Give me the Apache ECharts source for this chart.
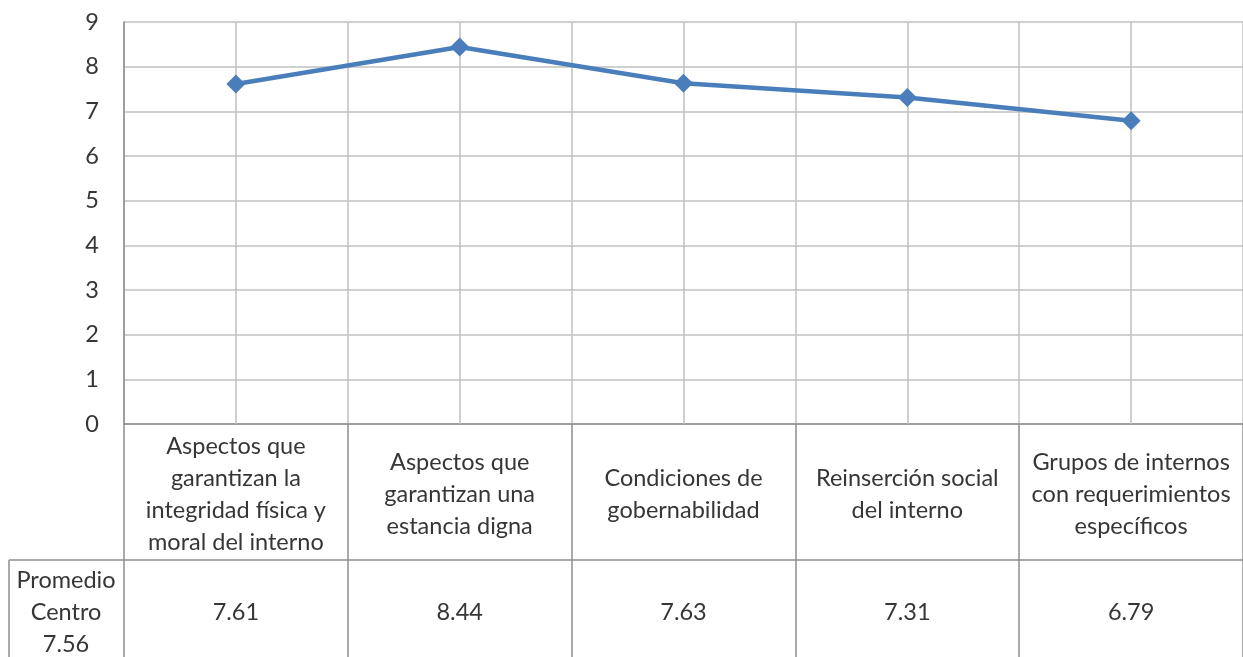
<!DOCTYPE html>
<html lang="es">
	<head>
		<meta charset="UTF-8"/>
		<title></title>
		<script src="https://cdn.jsdelivr.net/npm/echarts@6/dist/echarts.min.js"></script>
		<style>
			html, body { margin: 0; padding: 0; background: #fff; }
		</style>
	</head>
	<body>
		<div id="main" style="width: 1243px;height: 657px;"></div>
		<script type="text/javascript">
			// datos
			var categorias = [
				'Aspectos que\ngarantizan la\nintegridad física y\nmoral del interno',
				'Aspectos que\ngarantizan una\nestancia digna',
				'Condiciones de\ngobernabilidad',
				'Reinserción social\ndel interno',
				'Grupos de internos\ncon requerimientos\nespecíficos'
			];
			var valores = [7.61, 8.44, 7.63, 7.31, 6.79];
			var promedioCentro = 7.56;
			var nombreSerie = 'Promedio Centro';
			var ticksY = [0, 9, 1]; // min, max, intervalo

			var fuente = 'Lato';
			var tamFuente = 23.5;
			var colorTexto = '#363636';
			var colorRejilla = '#c0c0c0';
			var colorTabla = '#8e8e8e';

			var myChart = echarts.init(document.getElementById('main'));
			var option = {
				backgroundColor: '#ffffff',
				animation: false,
				grid: {
					left: 124,
					right: -1,
					top: 22,
					bottom: 233
				},
				xAxis: [
					{
						type: 'category',
						data: categorias,
						boundaryGap: true,
						axisLine: { show: true, lineStyle: { color: colorTabla, width: 1.5 } },
						axisTick: { show: true, length: 233, lineStyle: { color: colorTabla, width: 1.5 } },
						splitLine: { show: true, lineStyle: { color: colorRejilla, width: 1.5 } },
						axisLabel: {
							interval: 0,
							margin: 70,
							verticalAlign: 'middle',
							align: 'center',
							fontFamily: fuente,
							fontSize: tamFuente,
							lineHeight: 32,
							color: colorTexto
						}
					},
					{
						type: 'category',
						data: categorias,
						position: 'bottom',
						boundaryGap: true,
						axisLine: { show: false },
						axisTick: { show: true, alignWithLabel: true, inside: true, length: 402, lineStyle: { color: colorRejilla, width: 1.5 } },
						splitLine: { show: false },
						axisLabel: {
							interval: 0,
							margin: 188,
							verticalAlign: 'middle',
							fontFamily: fuente,
							fontSize: tamFuente,
							color: colorTexto,
							formatter: function (v, i) { return valores[i].toFixed(2); }
						}
					}
				],
				yAxis: {
					type: 'value',
					min: ticksY[0],
					max: ticksY[1],
					interval: ticksY[2],
					axisLine: { show: true, lineStyle: { color: colorTabla, width: 1.5 } },
					axisTick: { show: false },
					splitLine: { show: true, lineStyle: { color: colorRejilla, width: 1.5 } },
					axisLabel: {
						margin: 25,
						fontFamily: fuente,
						fontSize: tamFuente,
						color: colorTexto
					}
				},
				graphic: [
					{
						type: 'line',
						shape: { x1: 9, y1: 560, x2: 1243, y2: 560 },
						style: { stroke: colorTabla, lineWidth: 1.5 }
					},
					{
						type: 'line',
						shape: { x1: 9, y1: 560, x2: 9, y2: 657 },
						style: { stroke: colorTabla, lineWidth: 1.5 }
					},
					{
						type: 'text',
						x: 66,
						y: 612,
						style: {
							text: 'Promedio\nCentro\n' + promedioCentro.toFixed(2),
							align: 'center',
							verticalAlign: 'middle',
							font: tamFuente + 'px ' + fuente,
							lineHeight: 32,
							fill: colorTexto
						}
					}
				],
				series: [
					{
						name: nombreSerie,
						type: 'line',
						xAxisIndex: 0,
						data: valores,
						symbol: 'diamond',
						symbolSize: 19,
						lineStyle: { color: '#4a7ebb', width: 4.5 },
						itemStyle: { color: '#4a7ebb' }
					}
				]
			};
			myChart.setOption(option);
		</script>
	</body>
</html>
